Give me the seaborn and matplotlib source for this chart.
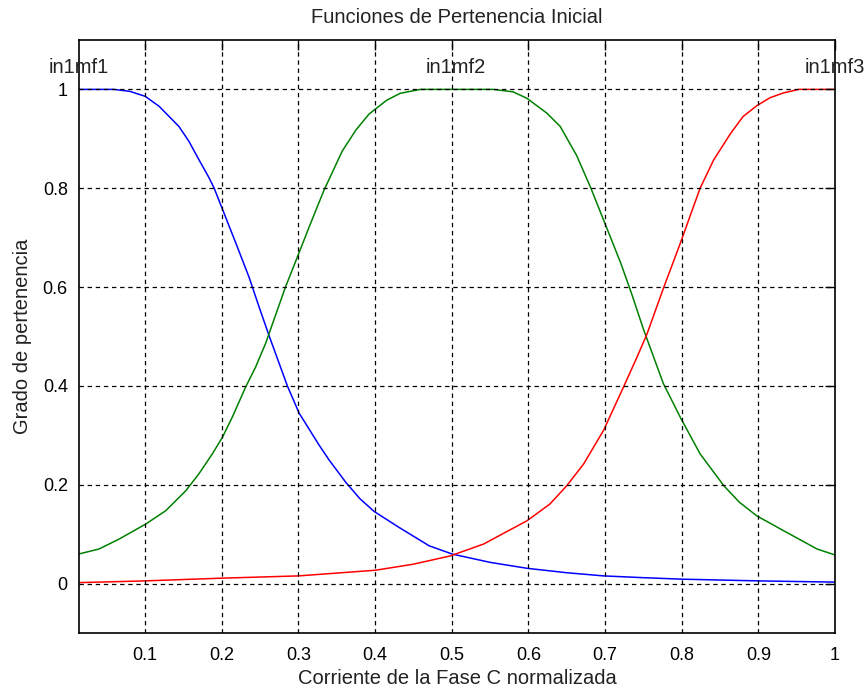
import numpy as np
import pandas as pd
import matplotlib
matplotlib.use("Agg")
import matplotlib.pyplot as plt
import seaborn as sns

# in1mf1 (blue)
mf1_x = [0.0136, 0.059, 0.08, 0.1, 0.118, 0.144, 0.157, 0.170, 0.183, 0.19, 0.2007,
         0.218, 0.2355, 0.249, 0.262, 0.2855, 0.3008, 0.327, 0.34, 0.3617, 0.38, 0.3987,
         0.4313, 0.4705, 0.501, 0.55, 0.598, 0.65, 0.698, 0.75, 0.8, 0.9, 1.0]
mf1_y = [1.0, 1.0, 0.996, 0.986, 0.966, 0.925, 0.895, 0.858, 0.822, 0.800, 0.758,
         0.690, 0.620, 0.558, 0.500, 0.400, 0.345, 0.280, 0.250, 0.205, 0.172, 0.146,
         0.1136, 0.0765, 0.0596, 0.043, 0.031, 0.022, 0.0156, 0.012, 0.009, 0.0055, 0.003]

# in1mf2 (green)
mf2_x = [0.0136, 0.0397, 0.0658, 0.1007, 0.1268, 0.153, 0.170, 0.1876, 0.2007, 0.2137,
         0.231, 0.244, 0.257, 0.283, 0.2986, 0.314, 0.333, 0.357, 0.375, 0.392, 0.415,
         0.4326, 0.459, 0.554, 0.58, 0.598, 0.624, 0.6415, 0.663, 0.681, 0.698, 0.7206,
         0.735, 0.750, 0.776, 0.798, 0.824, 0.855, 0.875, 0.898, 0.933, 0.9766, 1.0]
mf2_y = [0.060, 0.070, 0.090, 0.1205, 0.1475, 0.188, 0.222, 0.2625, 0.296, 0.337,
         0.3976, 0.438, 0.4856, 0.600, 0.661, 0.722, 0.795, 0.875, 0.918, 0.950, 0.978,
         0.992, 1.0, 1.0, 0.995, 0.982, 0.952, 0.925, 0.866, 0.802, 0.736, 0.648,
         0.585, 0.515, 0.405, 0.337, 0.2625, 0.198, 0.165, 0.137, 0.107, 0.070, 0.058]

# in1mf3 (red)
mf3_x = [0.0136, 0.1, 0.2, 0.3, 0.4, 0.449, 0.498, 0.5414, 0.598, 0.628, 0.650, 0.672,
         0.698, 0.724, 0.7416, 0.7547, 0.776, 0.798, 0.824, 0.8416, 0.8634, 0.88, 0.898,
         0.915, 0.933, 0.9526, 1.0]
mf3_y = [0.002, 0.0055, 0.011, 0.0156, 0.027, 0.039, 0.056, 0.080, 0.127, 0.161, 0.198,
         0.242, 0.310, 0.3976, 0.458, 0.505, 0.597, 0.688, 0.800, 0.857, 0.910, 0.945, 0.967,
         0.983, 0.993, 1.0, 1.0]

mf_names = ["in1mf1", "in1mf2", "in1mf3"]
label_x = [0.0136, 0.505, 1.0]
label_y = [1.044, 1.044, 1.044]
xticks = [0.1, 0.2, 0.3, 0.4, 0.5, 0.6, 0.7, 0.8, 0.9, 1.0]
xtick_labels = ["0.1", "0.2", "0.3", "0.4", "0.5", "0.6", "0.7", "0.8", "0.9", "1"]
yticks = [0, 0.2, 0.4, 0.6, 0.8, 1.0]
ytick_labels = ["0", "0.2", "0.4", "0.6", "0.8", "1"]

df = pd.concat([
    pd.DataFrame({"x": mf1_x, "y": mf1_y, "mf": "in1mf1"}),
    pd.DataFrame({"x": mf2_x, "y": mf2_y, "mf": "in1mf2"}),
    pd.DataFrame({"x": mf3_x, "y": mf3_y, "mf": "in1mf3"}),
])

sns.set_style("white")
plt.rcParams["font.family"] = ["Liberation Sans", "DejaVu Sans"]

fig = plt.figure(figsize=(8.66, 6.88), dpi=100)
ax = fig.add_axes([0.0912, 0.0799, 0.873, 0.862])

palette = {"in1mf1": (0, 0, 1), "in1mf2": (0, 0.5, 0), "in1mf3": (1, 0, 0)}
sns.lineplot(data=df, x="x", y="y", hue="mf", palette=palette, ax=ax,
             linewidth=1.1, legend=False, sort=True)

ax.set_xlim(0.0136, 1.0)
ax.set_ylim(-0.1, 1.1)
ax.set_xticks(xticks)
ax.set_xticklabels(xtick_labels)
ax.set_yticks(yticks)
ax.set_yticklabels(ytick_labels)

ax.grid(True, color="black", linestyle=(0, (3.5, 3)), linewidth=0.9)
ax.set_axisbelow(False)
for s in ax.spines.values():
    s.set_color("black")
    s.set_linewidth(1.2)
    s.set_visible(True)

ax.tick_params(direction="in", length=7, width=1, top=True, right=True,
               labelsize=13, colors="black", pad=8)
ax.tick_params(axis="x", pad=10)

for name, lx, ly in zip(mf_names, label_x, label_y):
    ax.text(lx, ly, name, ha="center", va="center", fontsize=14.5, color="#222222",
            clip_on=False)

ax.set_title("Funciones de Pertenencia Inicial", fontsize=14.5, pad=12, color="#222222")
ax.set_xlabel("Corriente de la Fase C normalizada", fontsize=14.5, labelpad=4, color="#222222")
ax.set_ylabel("Grado de pertenencia", fontsize=14.5, labelpad=8, color="#222222")

fig.savefig("out.png", dpi=100, facecolor="white")
